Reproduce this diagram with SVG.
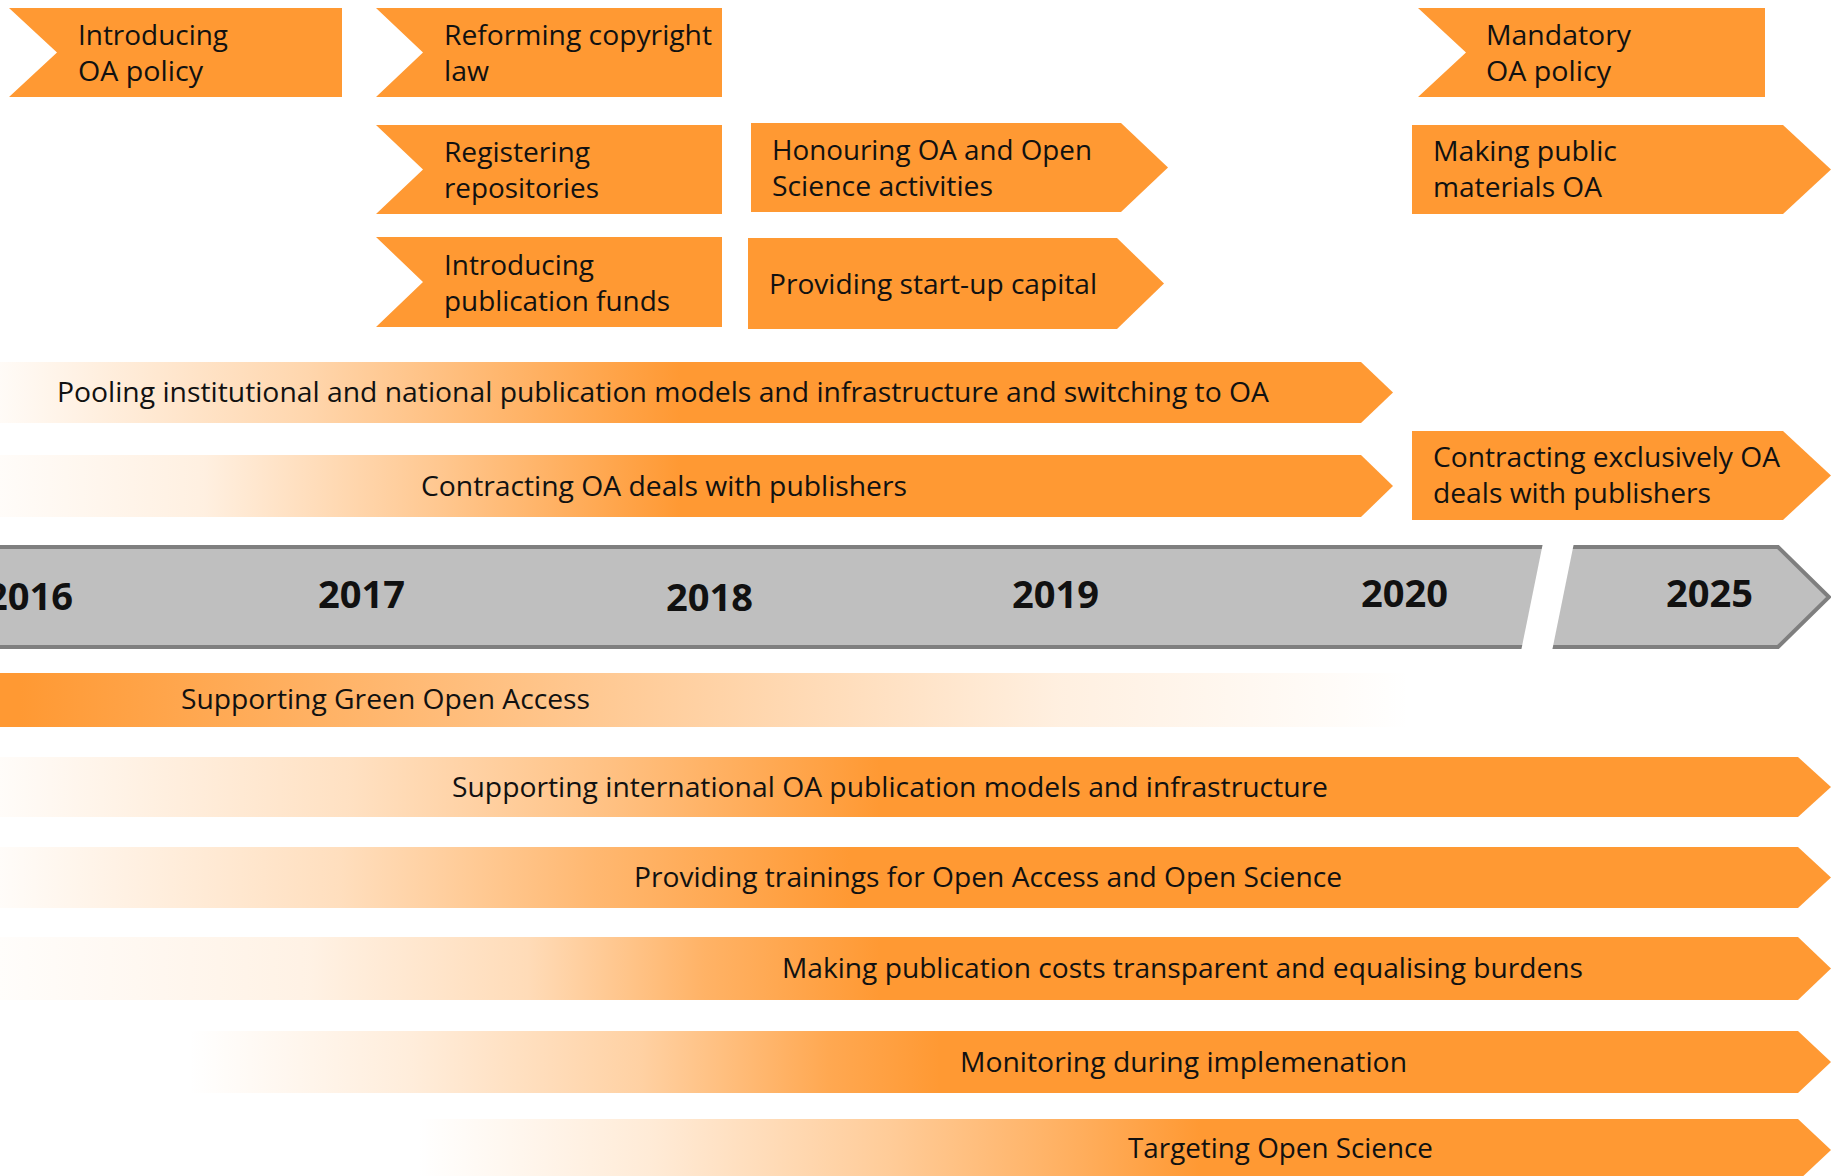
<svg xmlns="http://www.w3.org/2000/svg" width="1831" height="1176" viewBox="0 0 1831 1176">
<defs>
<style>
.box{fill:#FF9933}
.t{font-family:"Open Sans","DejaVu Sans",sans-serif;font-size:28px;fill:#111}
.yr{font-family:"Open Sans","DejaVu Sans",sans-serif;font-size:37px;font-weight:bold;fill:#111}
</style>
<linearGradient id="gPool" gradientUnits="userSpaceOnUse" x1="0" y1="0" x2="680" y2="0">
<stop offset="0" stop-color="#FF9933" stop-opacity="0.04"/><stop offset="0.45" stop-color="#FF9933" stop-opacity="0.4"/><stop offset="1" stop-color="#FF9933" stop-opacity="1"/></linearGradient>
<linearGradient id="gCon" gradientUnits="userSpaceOnUse" x1="0" y1="0" x2="680" y2="0">
<stop offset="0" stop-color="#FF9933" stop-opacity="0.03"/><stop offset="0.3" stop-color="#FF9933" stop-opacity="0.15"/><stop offset="0.65" stop-color="#FF9933" stop-opacity="0.55"/><stop offset="1" stop-color="#FF9933" stop-opacity="1"/></linearGradient>
<linearGradient id="gGreen" gradientUnits="userSpaceOnUse" x1="20" y1="0" x2="1410" y2="0">
<stop offset="0" stop-color="#FF9933" stop-opacity="1"/><stop offset="0.4" stop-color="#FF9933" stop-opacity="0.55"/><stop offset="0.75" stop-color="#FF9933" stop-opacity="0.15"/><stop offset="1" stop-color="#FF9933" stop-opacity="0"/></linearGradient>
<linearGradient id="gInt" gradientUnits="userSpaceOnUse" x1="0" y1="0" x2="880" y2="0">
<stop offset="0" stop-color="#FF9933" stop-opacity="0.03"/><stop offset="0.4" stop-color="#FF9933" stop-opacity="0.3"/><stop offset="0.7" stop-color="#FF9933" stop-opacity="0.62"/><stop offset="1" stop-color="#FF9933" stop-opacity="1"/></linearGradient>
<linearGradient id="gTrain" gradientUnits="userSpaceOnUse" x1="0" y1="0" x2="850" y2="0">
<stop offset="0" stop-color="#FF9933" stop-opacity="0.03"/><stop offset="0.4" stop-color="#FF9933" stop-opacity="0.32"/><stop offset="0.7" stop-color="#FF9933" stop-opacity="0.7"/><stop offset="1" stop-color="#FF9933" stop-opacity="1"/></linearGradient>
<linearGradient id="gCost" gradientUnits="userSpaceOnUse" x1="0" y1="0" x2="880" y2="0">
<stop offset="0" stop-color="#FF9933" stop-opacity="0.02"/><stop offset="0.35" stop-color="#FF9933" stop-opacity="0.13"/><stop offset="0.6" stop-color="#FF9933" stop-opacity="0.35"/><stop offset="0.8" stop-color="#FF9933" stop-opacity="0.75"/><stop offset="1" stop-color="#FF9933" stop-opacity="1"/></linearGradient>
<linearGradient id="gMon" gradientUnits="userSpaceOnUse" x1="189" y1="0" x2="940" y2="0">
<stop offset="0" stop-color="#FF9933" stop-opacity="0"/><stop offset="0.3" stop-color="#FF9933" stop-opacity="0.18"/><stop offset="0.6" stop-color="#FF9933" stop-opacity="0.45"/><stop offset="0.85" stop-color="#FF9933" stop-opacity="0.85"/><stop offset="1" stop-color="#FF9933" stop-opacity="1"/></linearGradient>
<linearGradient id="gTar" gradientUnits="userSpaceOnUse" x1="418" y1="0" x2="1200" y2="0">
<stop offset="0" stop-color="#FF9933" stop-opacity="0"/><stop offset="0.3" stop-color="#FF9933" stop-opacity="0.2"/><stop offset="0.6" stop-color="#FF9933" stop-opacity="0.5"/><stop offset="0.85" stop-color="#FF9933" stop-opacity="0.8"/><stop offset="1" stop-color="#FF9933" stop-opacity="1"/></linearGradient>
</defs>
<rect width="1831" height="1176" fill="#FFFFFF"/>

<g id="timeline">
<polygon points="-10,547 1778,547 1829,597 1778,647 -10,647" fill="#BFBFBF" stroke="#7F7F7F" stroke-width="4"/>
<polygon points="1546,528 1577,528 1549,666 1518,666" fill="#FFFFFF"/>
<text class="yr" x="-14" y="610" textLength="87" lengthAdjust="spacingAndGlyphs">2016</text>
<text class="yr" x="318" y="608" textLength="87" lengthAdjust="spacingAndGlyphs">2017</text>
<text class="yr" x="666" y="611" textLength="87" lengthAdjust="spacingAndGlyphs">2018</text>
<text class="yr" x="1012" y="608" textLength="87" lengthAdjust="spacingAndGlyphs">2019</text>
<text class="yr" x="1361" y="607" textLength="87" lengthAdjust="spacingAndGlyphs">2020</text>
<text class="yr" x="1666" y="607" textLength="87" lengthAdjust="spacingAndGlyphs">2025</text>
</g>

<g id="introducing-oa-policy">
<polygon class="box" points="9,8 342,8 342,97 9,97 57,52.5"/>
<text class="t" x="78" y="45" textLength="150" lengthAdjust="spacingAndGlyphs">Introducing</text>
<text class="t" x="78" y="81" textLength="125" lengthAdjust="spacingAndGlyphs">OA policy</text>
</g>
<g id="reforming-copyright">
<polygon class="box" points="376,8 722,8 722,97 376,97 423,52.5"/>
<text class="t" x="444" y="45" textLength="268" lengthAdjust="spacingAndGlyphs">Reforming copyright</text>
<text class="t" x="444" y="81" textLength="45" lengthAdjust="spacingAndGlyphs">law</text>
</g>
<g id="registering-repositories">
<polygon class="box" points="376,125 722,125 722,214 376,214 423,169.5"/>
<text class="t" x="444" y="162" textLength="146" lengthAdjust="spacingAndGlyphs">Registering</text>
<text class="t" x="444" y="198" textLength="155" lengthAdjust="spacingAndGlyphs">repositories</text>
</g>
<g id="publication-funds">
<polygon class="box" points="376,237 722,237 722,327 376,327 423,282"/>
<text class="t" x="444" y="275" textLength="150" lengthAdjust="spacingAndGlyphs">Introducing</text>
<text class="t" x="444" y="311" textLength="226" lengthAdjust="spacingAndGlyphs">publication funds</text>
</g>
<g id="honouring">
<polygon class="box" points="751,123 1121,123 1168,167.5 1121,212 751,212"/>
<text class="t" x="772" y="160" textLength="320" lengthAdjust="spacingAndGlyphs">Honouring OA and Open</text>
<text class="t" x="772" y="196" textLength="221" lengthAdjust="spacingAndGlyphs">Science activities</text>
</g>
<g id="startup-capital">
<polygon class="box" points="748,238 1117,238 1164,283.5 1117,329 748,329"/>
<text class="t" x="769" y="294" textLength="328" lengthAdjust="spacingAndGlyphs">Providing start-up capital</text>
</g>
<g id="mandatory-oa-policy">
<polygon class="box" points="1418,8 1765,8 1765,97 1418,97 1466,52.5"/>
<text class="t" x="1486" y="45" textLength="145" lengthAdjust="spacingAndGlyphs">Mandatory</text>
<text class="t" x="1486" y="81" textLength="125" lengthAdjust="spacingAndGlyphs">OA policy</text>
</g>
<g id="making-public-materials">
<polygon class="box" points="1412,125 1783,125 1831,169.5 1783,214 1412,214"/>
<text class="t" x="1433" y="161" textLength="184" lengthAdjust="spacingAndGlyphs">Making public</text>
<text class="t" x="1433" y="197" textLength="169" lengthAdjust="spacingAndGlyphs">materials OA</text>
</g>
<g id="pooling">
<polygon points="0,362 1361,362 1393,392.5 1361,423 0,423" fill="url(#gPool)"/>
<text class="t" x="57" y="402" textLength="1212" lengthAdjust="spacingAndGlyphs">Pooling institutional and national publication models and infrastructure and switching to OA</text>
</g>
<g id="contracting-oa-deals">
<polygon points="0,455 1361,455 1393,486 1361,517 0,517" fill="url(#gCon)"/>
<text class="t" x="421" y="496" textLength="486" lengthAdjust="spacingAndGlyphs">Contracting OA deals with publishers</text>
</g>
<g id="contracting-exclusively">
<polygon class="box" points="1412,431 1783,431 1831,475.5 1783,520 1412,520"/>
<text class="t" x="1433" y="467" textLength="347" lengthAdjust="spacingAndGlyphs">Contracting exclusively OA</text>
<text class="t" x="1433" y="503" textLength="278" lengthAdjust="spacingAndGlyphs">deals with publishers</text>
</g>
<g id="green-oa">
<rect x="0" y="673" width="1420" height="54" fill="url(#gGreen)"/>
<text class="t" x="181" y="709" textLength="409" lengthAdjust="spacingAndGlyphs">Supporting Green Open Access</text>
</g>
<g id="international-models">
<polygon points="0,757 1798,757 1831,787 1798,817 0,817" fill="url(#gInt)"/>
<text class="t" x="452" y="797" textLength="876" lengthAdjust="spacingAndGlyphs">Supporting international OA publication models and infrastructure</text>
</g>
<g id="trainings">
<polygon points="0,847 1798,847 1831,877.5 1798,908 0,908" fill="url(#gTrain)"/>
<text class="t" x="634" y="887" textLength="708" lengthAdjust="spacingAndGlyphs">Providing trainings for Open Access and Open Science</text>
</g>
<g id="publication-costs">
<polygon points="0,937 1798,937 1831,968.5 1798,1000 0,1000" fill="url(#gCost)"/>
<text class="t" x="782" y="978" textLength="801" lengthAdjust="spacingAndGlyphs">Making publication costs transparent and equalising burdens</text>
</g>
<g id="monitoring">
<polygon points="189,1031 1798,1031 1831,1062 1798,1093 189,1093" fill="url(#gMon)"/>
<text class="t" x="960" y="1072" textLength="447" lengthAdjust="spacingAndGlyphs">Monitoring during implemenation</text>
</g>
<g id="open-science">
<polygon points="418,1119 1798,1119 1831,1150 1798,1181 418,1181" fill="url(#gTar)"/>
<text class="t" x="1128" y="1158" textLength="305" lengthAdjust="spacingAndGlyphs">Targeting Open Science</text>
</g>
<g id="connectors"></g>
</svg>
